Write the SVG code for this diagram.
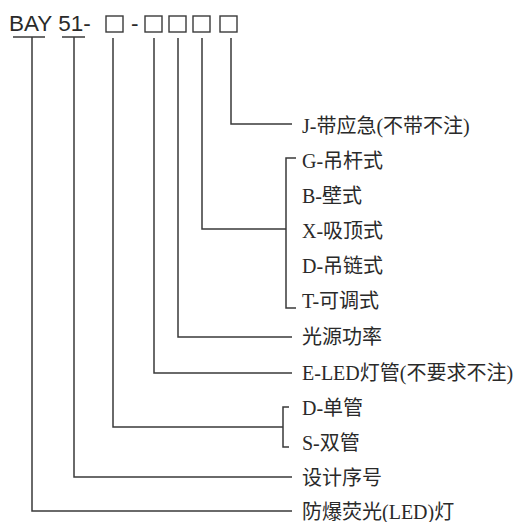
<svg xmlns="http://www.w3.org/2000/svg" width="529" height="522" viewBox="0 0 529 522">
<style>
.ln{fill:none;stroke:#3a3a3a;stroke-width:1.5}
.bx{fill:none;stroke:#3a3a3a;stroke-width:1.4}
.code{font-family:"Liberation Sans","Noto Sans CJK SC",sans-serif;font-size:22.5px;fill:#2a2a2a}
.lb{font-family:"Liberation Serif","Noto Sans CJK SC",serif;font-size:20px;fill:#2a2a2a}
</style>
<rect width="529" height="522" fill="#ffffff"/>
<g id="code">
<text class="code" x="9" y="31">BAY 51-</text>
<line class="ln" x1="13" y1="37" x2="45" y2="37"/>
<line class="ln" x1="62" y1="37" x2="85" y2="37"/>
<rect class="bx" x="106" y="16" width="17" height="16"/>
<text class="code" x="131" y="31">-</text>
<rect class="bx" x="145" y="16" width="17" height="16"/>
<rect class="bx" x="169" y="16" width="17" height="16"/>
<rect class="bx" x="193" y="16" width="17" height="16"/>
<rect class="bx" x="220" y="16" width="17" height="16"/>
</g>
<g id="connectors">
<polyline class="ln" points="231,38 231,124 292,124"/>
<polyline class="ln" points="202,38 202,229 286,229"/>
<polyline class="ln" points="296,158 286,158 286,308 296,308"/>
<polyline class="ln" points="178,38 178,337 292,337"/>
<polyline class="ln" points="154,38 154,373 292,373"/>
<polyline class="ln" points="113,38 113,427 283,427"/>
<polyline class="ln" points="289,407 283,407 283,447 289,447"/>
<polyline class="ln" points="74,37 74,477 292,477"/>
<polyline class="ln" points="32,37 32,511 292,511"/>
</g>
<g id="n-j"><text class="lb" x="302" y="133">J-带应急(不带不注)</text></g>
<g id="n-g"><text class="lb" x="302" y="168">G-吊杆式</text></g>
<g id="n-b"><text class="lb" x="302" y="203">B-壁式</text></g>
<g id="n-x"><text class="lb" x="302" y="238">X-吸顶式</text></g>
<g id="n-d1"><text class="lb" x="302" y="273">D-吊链式</text></g>
<g id="n-t"><text class="lb" x="302" y="308">T-可调式</text></g>
<g id="n-power"><text class="lb" x="302" y="344">光源功率</text></g>
<g id="n-e"><text class="lb" x="302" y="380">E-LED灯管(不要求不注)</text></g>
<g id="n-d2"><text class="lb" x="302" y="415">D-单管</text></g>
<g id="n-s"><text class="lb" x="302" y="450">S-双管</text></g>
<g id="n-design"><text class="lb" x="302" y="485">设计序号</text></g>
<g id="n-lamp"><text class="lb" x="302" y="519">防爆荧光(LED)灯</text></g>
</svg>
